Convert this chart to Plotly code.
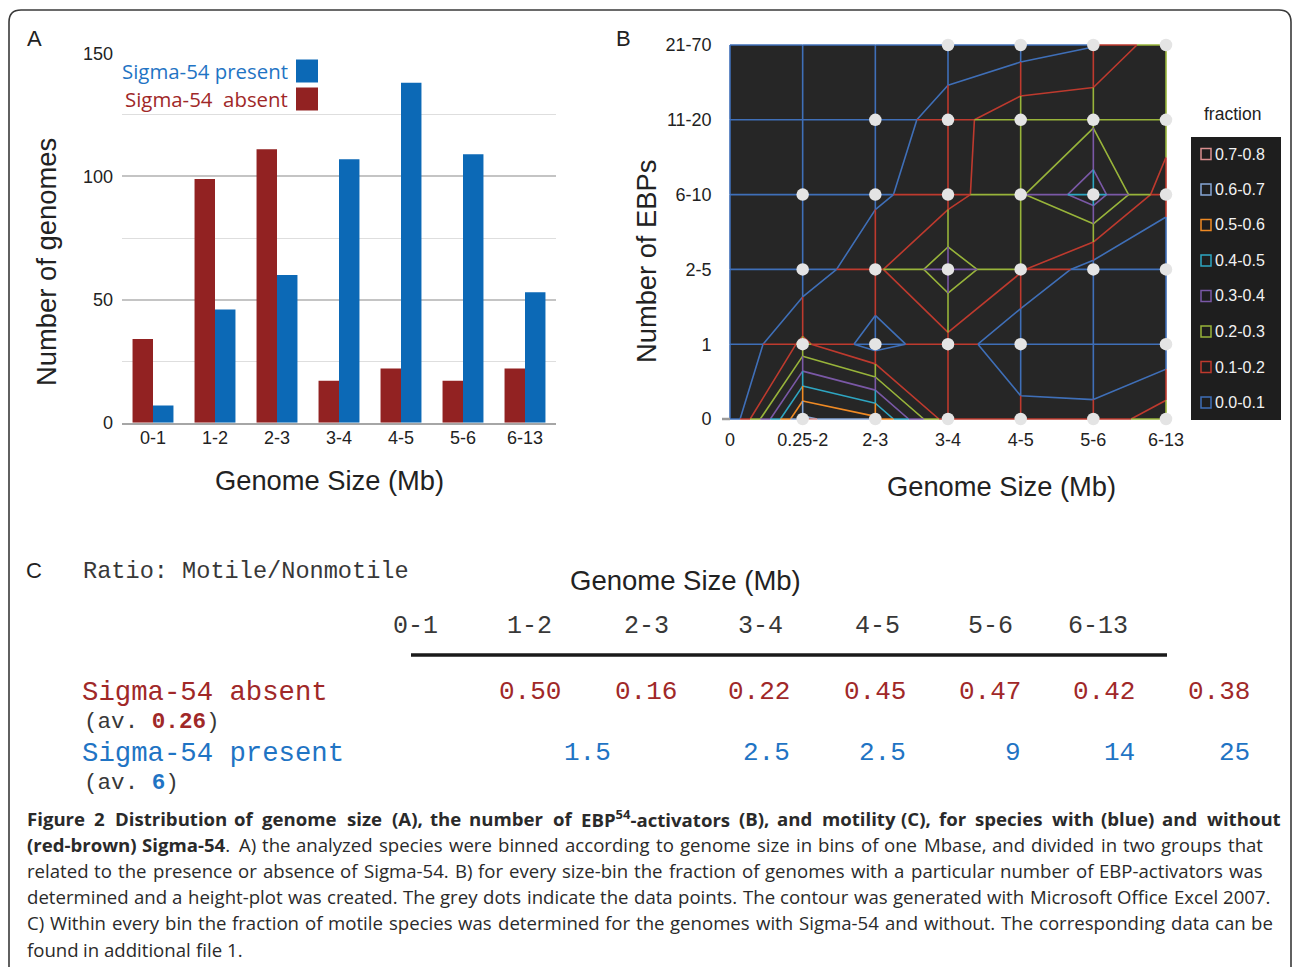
import plotly.graph_objects as go

W, H = 1293, 967

# ---------------- data ----------------
# Panel A
size_bins = ["0-1", "1-2", "2-3", "3-4", "4-5", "5-6", "6-13"]
absent_counts = [34, 99, 111, 17, 22, 17, 22]
present_counts = [7, 46, 60, 107, 138, 109, 53]
legend_a_labels = ["Sigma-54 present", "Sigma-54\u00a0 absent"]

# Panel B (rows: EBP bins bottom->top, cols: genome size bins left->right)
ebp_labels = ["0", "1", "2-5", "6-10", "11-20", "21-70"]
size_labels_b = ["0", "0.25-2", "2-3", "3-4", "4-5", "5-6", "6-13"]
fraction_rows = [
    [0.00, 0.72, 0.62, 0.14, 0.145, 0.135, 0.26],
    [0.00, 0.22, 0.05, 0.17, 0.00, 0.00, 0.02],
    [0.00, 0.03, 0.18, 0.36, 0.21, 0.05, 0.03],
    [0.00, 0.00, 0.08, 0.16, 0.29, 0.46, 0.13],
    [0.00, 0.00, 0.02, 0.16, 0.27, 0.28, 0.27],
    [0.00, 0.00, 0.00, 0.03, 0.05, 0.095, 0.27],
]
has_data = [
    [0, 1, 1, 1, 1, 1, 1],
    [0, 1, 1, 1, 1, 0, 1],
    [0, 1, 1, 1, 1, 1, 1],
    [0, 1, 1, 1, 1, 1, 1],
    [0, 0, 1, 1, 1, 1, 1],
    [0, 0, 0, 1, 1, 1, 1],
]
band_labels = ["0.0-0.1", "0.1-0.2", "0.2-0.3", "0.3-0.4",
               "0.4-0.5", "0.5-0.6", "0.6-0.7", "0.7-0.8"]
contour_levels = [0.1, 0.2, 0.3, 0.4, 0.5, 0.6, 0.7]

# Panel C
table_headers = ["0-1", "1-2", "2-3", "3-4", "4-5", "5-6", "6-13"]
ratio_absent = ["0.50", "0.16", "0.22", "0.45", "0.47", "0.42", "0.38"]
ratio_present = ["1.5", "2.5", "2.5", "9", "14", "25"]
avg_absent = "0.26"
avg_present = "6"

# Caption: segments (text, bold, superscript)
caption_lines = [
    [("Figure 2 Distribution of genome size (A), the number of EBP", True, False),
     ("54", True, True),
     ("-activators (B), and motility (C), for species with (blue) and without", True, False)],
    [("(red-brown) Sigma-54", True, False),
     (". A) the analyzed species were binned according to genome size in bins of one Mbase, and divided in two groups that", False, False)],
    [("related to the presence or absence of Sigma-54. B) for every size-bin the fraction of genomes with a particular number of EBP-activators was", False, False)],
    [("determined and a height-plot was created. The grey dots indicate the data points. The contour was generated with Microsoft Office Excel 2007.", False, False)],
    [("C) Within every bin the fraction of motile species was determined for the genomes with Sigma-54 and without. The corresponding data can be", False, False)],
    [("found in additional file 1.", False, False)],
]

# ---------------- styles ----------------
ARIAL = "Liberation Sans, Arial, sans-serif"
MONO = "Liberation Mono, Courier New, monospace"
SANS = "Open Sans, sans-serif"
RED_BAR = "#922222"
BLUE_BAR = "#0c69b6"
RED_TXT = "#a02828"
BLUE_TXT = "#1f74c4"
TEXT = "#222222"
band_colors = ["#3f6fb8", "#be3a2e", "#98b43a", "#7a58a6", "#2ea6c2",
               "#ef8a24", "#86a6d6", "#d98e8e"]


def px(x):
    return x / W


def py(y):
    return 1 - y / H


fig = go.Figure()

# ---------------- Panel A ----------------
fig.add_trace(go.Bar(x=size_bins, y=absent_counts, marker=dict(color=RED_BAR, line=dict(width=0)),
                     xaxis="x", yaxis="y", showlegend=False, hoverinfo="skip"))
fig.add_trace(go.Bar(x=size_bins, y=present_counts, marker=dict(color=BLUE_BAR, line=dict(width=0)),
                     xaxis="x", yaxis="y", showlegend=False, hoverinfo="skip"))

# ---------------- Panel B ----------------
ncol = len(size_labels_b)
nrow = len(ebp_labels)
xs_idx = list(range(ncol))
ys_idx = list(range(nrow))


def band_of(v):
    return max(0, min(int(v * 10 + 1e-9), 7))


seg_x = {b: [] for b in range(8)}
seg_y = {b: [] for b in range(8)}


def add_segment(p0, p1, a, b):
    ts = [0.0, 1.0]
    lo, hi = min(a, b), max(a, b)
    for L in contour_levels:
        if lo < L < hi:
            ts.append((L - a) / (b - a))
    ts.sort()
    for t0, t1 in zip(ts[:-1], ts[1:]):
        vm = a + (t0 + t1) / 2 * (b - a)
        bd = band_of(vm)
        seg_x[bd] += [p0[0] + t0 * (p1[0] - p0[0]), p0[0] + t1 * (p1[0] - p0[0]), None]
        seg_y[bd] += [p0[1] + t0 * (p1[1] - p0[1]), p0[1] + t1 * (p1[1] - p0[1]), None]


for r in range(nrow):
    for c in range(ncol - 1):
        add_segment((c, r), (c + 1, r), fraction_rows[r][c], fraction_rows[r][c + 1])
for c in range(ncol):
    for r in range(nrow - 1):
        add_segment((c, r), (c, r + 1), fraction_rows[r][c], fraction_rows[r + 1][c])

for bd in range(8):
    if seg_x[bd]:
        fig.add_trace(go.Scatter(x=seg_x[bd], y=seg_y[bd], mode="lines",
                                 line=dict(color=band_colors[bd], width=1.6),
                                 xaxis="x2", yaxis="y2", showlegend=False, hoverinfo="skip"))

for k, L in enumerate(contour_levels):
    fig.add_trace(go.Contour(x=xs_idx, y=ys_idx, z=fraction_rows,
                             autocontour=False,
                             contours=dict(start=L, end=L, size=0.1, coloring="none"),
                             line=dict(color=band_colors[k], width=1.6, smoothing=0),
                             showscale=False, hoverinfo="skip",
                             xaxis="x2", yaxis="y2"))

dot_x, dot_y = [], []
for r in range(nrow):
    for c in range(ncol):
        if has_data[r][c]:
            dot_x.append(c)
            dot_y.append(r)
fig.add_trace(go.Scatter(x=dot_x, y=dot_y, mode="markers",
                         marker=dict(color="#e4e4e4", size=12.5, line=dict(width=0)),
                         cliponaxis=False, xaxis="x2", yaxis="y2",
                         showlegend=False, hoverinfo="skip"))

# ---------------- layout helpers ----------------
A_L, A_R, A_T, A_B = 122, 556, 53.3, 422.7
B_L, B_R, B_T, B_B = 730, 1166, 45, 419
pad = 0.06
bxu = (B_R - B_L) / (ncol - 1)
byu = (B_B - B_T) / (nrow - 1)

shapes = []
annotations = []


def txt(x, y, text, size, color=TEXT, family=ARIAL, xanchor="left", yanchor="middle", angle=0):
    annotations.append(dict(x=px(x), y=py(y), xref="paper", yref="paper", text=text,
                            showarrow=False, xanchor=xanchor, yanchor=yanchor,
                            textangle=angle, font=dict(size=size, color=color, family=family)))


# border (rounded top corners), kept inside the page
rr = 12
bl, bt, brr, bb = 9, 10, 1291, 967
path = (f"M {px(bl)},{py(bb)} L {px(bl)},{py(bt + rr)} Q {px(bl)},{py(bt)} {px(bl + rr)},{py(bt)} "
        f"L {px(brr - rr)},{py(bt)} Q {px(brr)},{py(bt)} {px(brr)},{py(bt + rr)} L {px(brr)},{py(bb)}")
shapes.append(dict(type="path", path=path, xref="paper", yref="paper",
                   line=dict(color="#3a3a3a", width=1.6), layer="below"))

# Panel B background
shapes.append(dict(type="rect", xref="paper", yref="paper", x0=px(B_L), x1=px(B_R),
                   y0=py(B_B), y1=py(B_T), fillcolor="#262626", line=dict(width=0), layer="below"))
# small grey stub at the origin of panel B
shapes.append(dict(type="line", xref="paper", yref="paper", x0=px(722), x1=px(730),
                   y0=py(B_B), y1=py(B_B), line=dict(color="#9a9a9a", width=2.5)))

# Panel labels
txt(34, 38, "A", 22, xanchor="center")
txt(623, 38, "B", 22, xanchor="center")
txt(34, 570, "C", 22, xanchor="center")

# Panel A titles
txt(47, 262, "Number of genomes", 27.4, angle=-90, xanchor="center")
txt(329, 480, "Genome Size (Mb)", 27.3, xanchor="center")

# Panel A legend
legend_a_colors = [(BLUE_TXT, BLUE_BAR), (RED_TXT, RED_BAR)]
for i, lab in enumerate(legend_a_labels):
    yc = 71 + i * 28
    txt(290, yc, lab, 20.4, color=legend_a_colors[i][0], family=SANS, xanchor="right")
    shapes.append(dict(type="rect", xref="paper", yref="paper", x0=px(296), x1=px(318),
                       y0=py(yc + 11.5), y1=py(yc - 11.5), fillcolor=legend_a_colors[i][1],
                       line=dict(width=0)))

# Panel B titles
txt(647, 262, "Number of EBPs", 27.3, angle=-90, xanchor="center")
txt(1001, 486, "Genome Size (Mb)", 27.3, xanchor="center")

# Panel B legend
txt(1232, 114, "fraction", 17.5, xanchor="center")
shapes.append(dict(type="rect", xref="paper", yref="paper", x0=px(1191), x1=px(1281),
                   y0=py(420), y1=py(137), fillcolor="#1e1e1e", line=dict(width=0)))
for i in range(8):
    bd = 7 - i
    yc = 154 + i * 35.5
    shapes.append(dict(type="rect", xref="paper", yref="paper", x0=px(1201), x1=px(1211),
                       y0=py(yc + 5.5), y1=py(yc - 5.5), fillcolor="rgba(0,0,0,0)",
                       line=dict(color=band_colors[bd], width=1.5)))
    txt(1213, yc, band_labels[bd], 16, color="#f2f2f2")

# ---------------- Panel C ----------------
txt(81, 571, "Ratio: Motile/Nonmotile", 23.6, color="#383838", family=MONO)
txt(685, 580, "Genome Size (Mb)", 27.5, xanchor="center")
header_cx = [415, 529, 646, 760, 877, 991, 1098]
for h, cx in zip(table_headers, header_cx):
    txt(cx, 626, h, 25, color="#383838", family=MONO, xanchor="center")
shapes.append(dict(type="line", xref="paper", yref="paper", x0=px(411), x1=px(1167),
                   y0=py(655), y1=py(655), line=dict(color="#1a1a1a", width=3.5)))

txt(80, 692, "Sigma-54 absent", 27.3, color=RED_TXT, family=MONO)
absent_right = [563, 679, 792, 908, 1023, 1137, 1252]
for v, xr in zip(ratio_absent, absent_right):
    txt(xr, 692, v, 26, color=RED_TXT, family=MONO, xanchor="right")
txt(82, 722, f"(av. <b><span style='color:{RED_TXT}'>{avg_absent}</span></b>)", 22.6,
    color="#383838", family=MONO)
txt(80, 753, "Sigma-54 present", 27.3, color=BLUE_TXT, family=MONO)
present_right = [613, 792, 908, 1023, 1137, 1252]
for v, xr in zip(ratio_present, present_right):
    txt(xr, 753, v, 26, color=BLUE_TXT, family=MONO, xanchor="right")
txt(82, 783, f"(av. <b><span style='color:{BLUE_TXT}'>{avg_present}</span></b>)", 22.6,
    color="#383838", family=MONO)

# ---------------- caption (justified word by word) ----------------
# approximate Open Sans advance widths (per 1000 em)
CW = {" ": 260, "(": 282, ")": 282, ",": 245, "-": 322, ".": 266, ":": 266,
      "A": 633, "B": 648, "C": 631, "D": 729, "E": 556, "F": 516, "G": 728, "H": 738,
      "I": 279, "M": 903, "N": 769, "O": 781, "P": 613, "S": 539, "T": 548, "W": 927,
      "a": 556, "b": 604, "c": 476, "d": 604, "e": 561, "f": 339, "g": 548, "h": 614,
      "i": 253, "j": 253, "k": 525, "l": 253, "m": 930, "n": 614, "o": 604, "p": 604,
      "q": 604, "r": 408, "s": 477, "t": 353, "u": 614, "v": 501, "w": 778, "x": 524,
      "y": 502, "z": 477}
CAP_FS = 18.6
CAP_LEFT = 26
cap_right = [1277, 1262, 1262, 1270, 1272, None]


def char_w(ch):
    if ch.isdigit():
        return 572
    return CW.get(ch, 560)


def split_words(segs):
    words, cur = [], []
    for text, bold, sup in segs:
        parts = text.split(" ")
        for k, p in enumerate(parts):
            if k > 0 and cur:
                words.append(cur)
                cur = []
            if p:
                cur.append((p, bold, sup))
    if cur:
        words.append(cur)
    return words


def word_width(word):
    w = 0.0
    for text, bold, sup in word:
        f = (1.07 if bold else 1.0) * (0.7 if sup else 1.0)
        w += sum(char_w(ch) for ch in text) * f
    return w * CAP_FS / 1000.0


def word_html(word):
    out = ""
    for text, bold, sup in word:
        t = text
        if sup:
            t = f"<sup>{t}</sup>"
        if bold:
            t = f"<b>{t}</b>"
        out += t
    return out


for i, segs in enumerate(caption_lines):
    yc = 818 + i * 26.2
    words = split_words(segs)
    widths = [word_width(wd) for wd in words]
    if cap_right[i] is None or len(words) < 2:
        gap = char_w(" ") * CAP_FS / 1000.0
    else:
        gap = (cap_right[i] - CAP_LEFT - sum(widths)) / (len(words) - 1)
    x = CAP_LEFT
    for wd, wdt in zip(words, widths):
        txt(x - 1, yc, word_html(wd), CAP_FS, color="#2a2a2a", family=SANS)
        x += wdt + gap

fig.update_layout(
    template="none",
    width=W, height=H, autosize=False,
    margin=dict(l=0, r=0, t=0, b=0, pad=0, autoexpand=False),
    paper_bgcolor="white",
    plot_bgcolor="rgba(0,0,0,0)",
    barmode="group", bargap=0.34, bargroupgap=0,
    showlegend=False,
    shapes=shapes,
    annotations=annotations,
    xaxis=dict(domain=[px(A_L), px(A_R)], anchor="y", showgrid=False, zeroline=False,
               automargin=False,
               showline=True, linecolor="#a6a6a6", linewidth=2,
               ticks="", ticklabelstandoff=-2,
               tickfont=dict(family=ARIAL, size=18, color=TEXT), fixedrange=True),
    yaxis=dict(domain=[py(A_B), py(A_T)], anchor="x", range=[0, 150], automargin=False,
               tickvals=[0, 50, 100, 150], showgrid=True, gridcolor="#c4c4c4", gridwidth=1.5,
               minor=dict(dtick=25, showgrid=True, gridcolor="#dedede", gridwidth=1.2),
               zeroline=False, showline=False, ticks="", ticklabelstandoff=8,
               tickfont=dict(family=ARIAL, size=18, color=TEXT)),
    xaxis2=dict(domain=[px(B_L - pad * bxu), px(B_R + pad * bxu)], anchor="y2", automargin=False,
                range=[-pad, ncol - 1 + pad], tickvals=xs_idx, ticktext=size_labels_b,
                showgrid=False, zeroline=False, showline=False, ticks="", ticklabelstandoff=4,
                tickfont=dict(family=ARIAL, size=18, color=TEXT)),
    yaxis2=dict(domain=[py(B_B + pad * byu), py(B_T - pad * byu)], anchor="x2", automargin=False,
                range=[-pad, nrow - 1 + pad], tickvals=ys_idx, ticktext=ebp_labels,
                showgrid=False, zeroline=False, showline=False, ticks="", ticklabelstandoff=13,
                tickfont=dict(family=ARIAL, size=18, color=TEXT)),
)

post = ("var gd=document.getElementById('{plot_id}');"
        "document.documentElement.style.margin='0';document.body.style.margin='0';"
        "document.body.style.overflow='hidden';"
        "gd.style.position='fixed';gd.style.left='0px';gd.style.top='0px';")

fig.write_html("out.html", post_script=post, config={"displayModeBar": False})
